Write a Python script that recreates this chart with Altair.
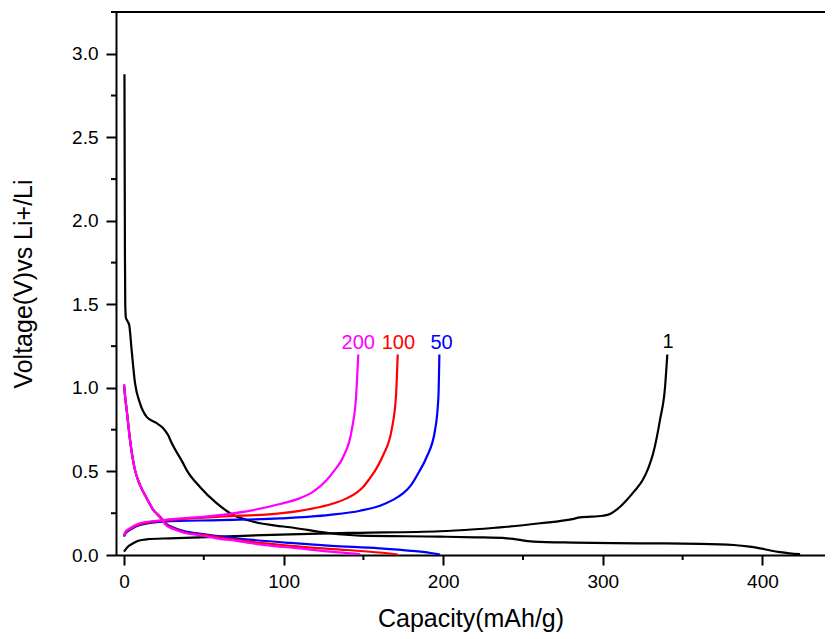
import altair as alt
import pandas as pd

# ---- data ----
# cycle 1 (black)
c1_dis_cap = [0.3, 0.45, 0.6, 0.8, 1.2, 2.2, 3.3, 4.8, 6.9, 10.0, 14.2, 20.5, 24.4, 27.6, 29.9, 37.0, 39.3,
              47.6, 58.0, 68.5, 81.0, 95.0, 104.0, 115.0, 129.0, 148.0, 198.0, 220.0, 240.0, 256.5, 281.5,
              323.0, 361.0, 382.0, 392.0, 398.5, 405.0, 411.0, 417.0, 423.6]
c1_dis_v = [2.877, 2.3, 1.8, 1.5, 1.42, 1.40, 1.375, 1.226, 1.03, 0.909, 0.827, 0.789, 0.76, 0.718, 0.67,
            0.55, 0.508, 0.407, 0.31, 0.239, 0.2, 0.176, 0.166, 0.15, 0.13, 0.116, 0.11, 0.106, 0.1, 0.08,
            0.074, 0.07, 0.067, 0.06, 0.05, 0.04, 0.027, 0.017, 0.01, 0.005]
c1_chg_cap = [0.0, 2.0, 5.8, 9.0, 14.2, 28.8, 60.0, 104.0, 129.0, 148.0, 198.0, 220.0, 240.0, 260.6, 281.0,
              285.7, 300.0, 304.5, 307.0, 311.0, 315.0, 320.0, 325.0, 328.5, 331.6, 335.8, 339.0, 340.4]
c1_chg_v = [0.02, 0.045, 0.07, 0.085, 0.094, 0.1, 0.11, 0.124, 0.13, 0.133, 0.142, 0.154, 0.169, 0.19, 0.215,
            0.225, 0.235, 0.245, 0.26, 0.29, 0.329, 0.385, 0.449, 0.52, 0.61, 0.807, 1.007, 1.2]

# cycle 50 (blue)
c50_dis_cap = [0.0, 0.8, 1.7, 3.8, 6.9, 10.0, 14.2, 18.0, 22.5, 26.7, 31.0, 37.0, 49.7, 70.6, 104.0, 130.0,
               160.0, 180.0, 192.0, 198.0]
c50_dis_v = [1.02, 0.94, 0.867, 0.688, 0.508, 0.42, 0.34, 0.275, 0.23, 0.185, 0.165, 0.145, 0.125, 0.1,
             0.072, 0.055, 0.04, 0.025, 0.012, 0.003]
c50_chg_cap = [0.0, 1.0, 3.8, 10.0, 24.6, 60.0, 97.7, 129.0, 148.0, 160.4, 168.5, 175.0, 180.0, 185.0,
               189.7, 194.9, 197.0, 197.6]
c50_chg_v = [0.11, 0.13, 0.15, 0.18, 0.2, 0.209, 0.219, 0.24, 0.265, 0.295, 0.33, 0.37, 0.42, 0.5, 0.588,
             0.748, 0.947, 1.2]

# cycle 100 (red)
c100_dis_cap = [0.0, 0.8, 1.7, 3.8, 6.9, 10.0, 14.2, 18.0, 22.5, 26.7, 31.0, 37.0, 49.7, 70.6, 104.0, 139.5,
                160.0, 171.5]
c100_dis_v = [1.02, 0.94, 0.867, 0.688, 0.508, 0.42, 0.34, 0.275, 0.228, 0.18, 0.16, 0.138, 0.12, 0.09,
              0.055, 0.03, 0.015, 0.003]
c100_chg_cap = [0.0, 1.0, 3.8, 10.0, 24.6, 60.0, 97.7, 118.6, 130.0, 139.5, 146.0, 150.0, 154.0, 158.3,
                162.5, 167.7, 170.4, 171.5]
c100_chg_v = [0.115, 0.135, 0.155, 0.185, 0.205, 0.229, 0.249, 0.279, 0.305, 0.339, 0.375, 0.409, 0.459,
              0.52, 0.6, 0.75, 0.95, 1.2]

# cycle 200 (magenta)
c200_dis_cap = [0.0, 0.8, 1.7, 3.8, 6.9, 10.0, 14.2, 18.0, 22.5, 26.7, 31.0, 37.0, 49.7, 58.0, 70.6, 79.0,
                104.0, 110.0, 129.0, 148.0]
c200_dis_v = [1.02, 0.94, 0.867, 0.688, 0.508, 0.42, 0.34, 0.275, 0.225, 0.175, 0.155, 0.135, 0.115, 0.1,
              0.085, 0.072, 0.045, 0.04, 0.02, 0.005]
c200_chg_cap = [0.0, 1.0, 3.8, 10.0, 24.6, 60.0, 81.0, 97.7, 110.0, 118.6, 127.0, 132.0, 137.4, 142.7,
                145.4, 146.8]
c200_chg_v = [0.12, 0.14, 0.16, 0.19, 0.209, 0.239, 0.269, 0.305, 0.339, 0.379, 0.449, 0.508, 0.588,
              0.748, 0.947, 1.2]

label_text = ["1", "50", "100", "200"]
label_cap = [340.9, 199.0, 171.9, 146.8]
label_v = [1.274, 1.268, 1.268, 1.268]

cycles = ["1", "50", "100", "200"]
colors = ["#000000", "#0000FF", "#FF0000", "#FF00FF"]

x_major = [0, 100, 200, 300, 400]
x_minor = [50, 150, 250, 350]
y_major = [0.0, 0.5, 1.0, 1.5, 2.0, 2.5, 3.0]
y_minor = [0.25, 0.75, 1.25, 1.75, 2.25, 2.75, 3.25]

# ---- build tables ----
series = {
    "1": [(c1_dis_cap, c1_dis_v), (c1_chg_cap, c1_chg_v)],
    "50": [(c50_dis_cap, c50_dis_v), (c50_chg_cap, c50_chg_v)],
    "100": [(c100_dis_cap, c100_dis_v), (c100_chg_cap, c100_chg_v)],
    "200": [(c200_dis_cap, c200_dis_v), (c200_chg_cap, c200_chg_v)],
}
rows = []
for cyc, segs in series.items():
    for si, (caps, vs) in enumerate(segs):
        for i, (c, v) in enumerate(zip(caps, vs)):
            rows.append({"cycle": cyc, "seg": f"{cyc}-{si}", "ord": i, "cap": c, "v": v})
df = pd.DataFrame(rows)

W, H = 709, 543
FONT = "Liberation Sans"
xs = alt.Scale(domain=[-5, 439.2], nice=False, zero=False)
ys = alt.Scale(domain=[0, 3.25], nice=False, zero=False)

xaxis = alt.Axis(values=x_major, title="Capacity(mAh/g)", grid=False, tickSize=10, tickWidth=2,
                 domainWidth=2, domainColor="black", tickColor="black", labelColor="black",
                 titleColor="black", labelFontSize=19, titleFontSize=25, titleFontWeight="normal",
                 labelFont=FONT, titleFont=FONT, labelPadding=7, titlePadding=15, labelFlush=False)
yaxis = alt.Axis(values=y_major, format=".1f", title="Voltage(V)vs Li+/Li", grid=False, tickSize=10,
                 tickWidth=2, domainWidth=2, domainColor="black", tickColor="black", labelColor="black",
                 titleColor="black", labelFontSize=19, titleFontSize=25, titleFontWeight="normal",
                 labelFont=FONT, titleFont=FONT, labelPadding=8, titlePadding=35, labelFlush=False)

layers = []
for cyc, col in zip(cycles, colors):
    layers.append(
        alt.Chart(df[df.cycle == cyc]).mark_line(color=col, strokeWidth=2.2, interpolate="monotone").encode(
            x=alt.X("cap:Q", scale=xs, axis=xaxis),
            y=alt.Y("v:Q", scale=ys, axis=yaxis),
            detail="seg:N",
            order="ord:Q",
        )
    )

lab_df = pd.DataFrame({"cycle": label_text, "cap": label_cap, "v": label_v})
labels = alt.Chart(lab_df).mark_text(font=FONT, fontSize=20, align="center", baseline="middle").encode(
    x=alt.X("cap:Q", scale=xs, axis=xaxis),
    y=alt.Y("v:Q", scale=ys, axis=yaxis),
    text="cycle:N",
    color=alt.Color("cycle:N", scale=alt.Scale(domain=cycles, range=colors), legend=None),
)

xminor = alt.Chart(pd.DataFrame({"cap": x_minor})).mark_rule(color="black", strokeWidth=2).encode(
    x=alt.X("cap:Q", scale=xs, axis=xaxis), y=alt.value(H), y2=alt.value(H + 5))
yminor = alt.Chart(pd.DataFrame({"v": y_minor})).mark_rule(color="black", strokeWidth=2).encode(
    y=alt.Y("v:Q", scale=ys, axis=yaxis), x=alt.value(0), x2=alt.value(-5))
topline = alt.Chart(pd.DataFrame({"a": [0]})).mark_rule(color="black", strokeWidth=2).encode(
    x=alt.value(0), x2=alt.value(W), y=alt.value(0))

chart = alt.layer(xminor, yminor, topline, *layers, labels).properties(
    width=W, height=H,
    autosize=alt.AutoSizeParams(type="none"),
    padding={"left": 108, "top": 4, "right": 0, "bottom": 77},
).configure_view(stroke=None)

chart.save("out.html", embed_options={"renderer": "svg", "actions": False})
